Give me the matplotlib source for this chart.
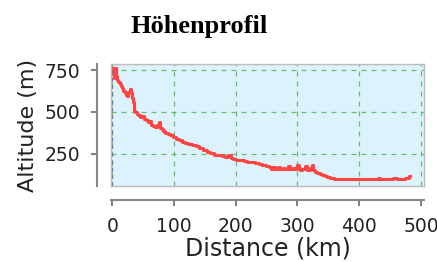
import matplotlib
matplotlib.use("Agg")
import matplotlib.pyplot as plt

distance_km = [0, 1, 2, 3, 4, 5, 6, 7, 9, 11, 13, 15, 17, 19, 21, 23, 25, 27, 29, 31, 33, 34, 35, 36,
               38, 41, 44, 47, 50, 53, 56, 59, 62, 65, 68, 71, 74, 77, 79, 81, 84, 88, 92, 96, 100,
               105, 110, 115, 120, 126, 132, 138, 144, 150, 156, 162, 168, 174, 180, 186, 190, 194,
               198, 204, 210, 216, 222, 228, 234, 240, 246, 252, 256, 258, 262, 266, 270, 274, 278,
               282, 286, 290, 294, 298, 301, 303, 306, 310, 314, 318, 322, 324, 326, 330, 334, 338,
               342, 346, 350, 356, 362, 370, 380, 390, 400, 410, 420, 428, 432, 436, 444, 450, 458,
               466, 472, 478, 482]
altitude_m = [730, 765, 745, 720, 700, 740, 760, 715, 690, 680, 665, 655, 640, 625, 610, 600, 595, 620,
              635, 610, 585, 560, 520, 505, 500, 490, 480, 470, 475, 455, 450, 440, 445, 420, 415,
              410, 420, 440, 405, 395, 385, 375, 370, 360, 350, 340, 330, 320, 315, 310, 300, 295,
              285, 272, 262, 252, 245, 240, 238, 230, 242, 226, 220, 215, 210, 205, 202, 198, 195,
              190, 182, 175, 170, 158, 168, 158, 172, 160, 165, 158, 175, 160, 165, 160, 185, 162,
              155, 160, 175, 150, 165, 180, 150, 140, 135, 130, 122, 118, 112, 105, 100, 98, 98,
              100, 98, 100, 98, 100, 105, 100, 98, 100, 105, 100, 100, 104, 118]

rect = [111 / 437, 1 - 186 / 262, (424 - 111) / 437, (186 - 64) / 262]
fig = plt.figure(figsize=(4.37, 2.62), dpi=100)
ax = fig.add_axes(rect)
ax.set_facecolor("#dcf2fc")
ax.plot(distance_km, altitude_m, color="#ff4444", lw=2.2, drawstyle="steps-mid")
ax.set_xlim(-2, 505)
ax.set_ylim(57, 786)
ax.set_xticks([0, 100, 200, 300, 400, 500])
ax.set_yticks([250, 500, 750])
ax.grid(True, color="#4caf50", linestyle=(0, (4, 4)), lw=0.9, alpha=0.8)
ax.axvline(0, color="#5566bb", linestyle=(0, (3, 3)), lw=0.9)
for s in ax.spines.values():
    s.set_color("#bbbbbb")
    s.set_linewidth(1.0)
ax.tick_params(axis="both", length=0, labelleft=False, labelbottom=False)

axl = fig.add_axes(rect)
axl.patch.set_alpha(0)
axl.set_xlim(ax.get_xlim())
axl.set_ylim(ax.get_ylim())
axl.set_xticks([0, 100, 200, 300, 400, 500])
axl.set_yticks([250, 500, 750])
axl.spines["top"].set_visible(False)
axl.spines["right"].set_visible(False)
axl.spines["left"].set_position(("outward", 10))
axl.spines["bottom"].set_position(("outward", 10))
for side in ("left", "bottom"):
    axl.spines[side].set_color("#888888")
    axl.spines[side].set_linewidth(1.5)
axl.tick_params(axis="both", colors="#666666", length=4, width=1.2, labelsize=13.5, labelcolor="#222222")
axl.tick_params(axis="y", pad=8)
axl.tick_params(axis="x", pad=8)
axl.set_xlabel("Distance (km)", fontsize=17, color="#222222", labelpad=1)
axl.set_ylabel("Altitude (m)", fontsize=16, color="#222222", labelpad=5)

fig.text(199 / 437, 1 - 26 / 262, "Höhenprofil", family="Liberation Serif", fontweight="bold",
         fontsize=19, ha="center", va="center")

fig.savefig("out.png", dpi=100)
